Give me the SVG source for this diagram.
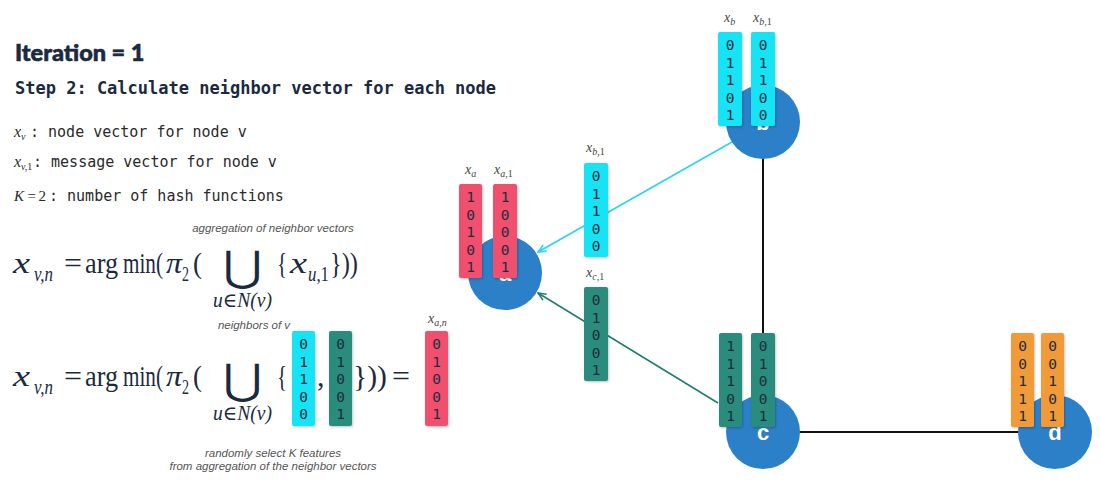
<svg xmlns="http://www.w3.org/2000/svg" width="1100" height="483" viewBox="0 0 1100 483">
<style>
.title{font-family:Lato,"Open Sans",sans-serif;font-weight:900;font-size:23.5px;fill:#1b2a41;stroke:#1b2a41;stroke-width:0.6}
.step{font-family:"DejaVu Sans Mono",monospace;font-weight:bold;font-size:17px;fill:#1b2a41}
.mono{font-family:"DejaVu Sans Mono",monospace;font-size:15px;fill:#2a2a2a}
.mi{font-family:"Liberation Serif","DejaVu Serif",serif;font-style:italic;fill:#2a2a2a}
.mu{font-family:"Liberation Serif","DejaVu Serif",serif;fill:#1b2a41;font-size:30px}
.fi{font-family:"Liberation Serif","DejaVu Serif",serif;font-style:italic;fill:#1b2a41;font-size:30px}
.fs{font-size:20px}
.up{font-style:normal}
.note{font-family:"Liberation Sans",Arial,sans-serif;font-style:italic;font-size:11.5px;fill:#555}
.d{font-family:"DejaVu Sans Mono",monospace;font-size:14.5px;fill:#1e2d40;text-anchor:middle}
.lbl{font-family:"Liberation Serif","DejaVu Serif",serif;font-style:italic;font-size:14px;fill:#444}
.sub{font-size:10px}
.node{fill:#2b80c8}
.nl{font-family:"Liberation Sans",Arial,sans-serif;font-weight:bold;font-size:22px;fill:#fff;text-anchor:middle}
.pink{fill:#f0506e}
.cyan{fill:#16e4f4}
.teal{fill:#2a8c7d}
.orange{fill:#f09a38}
.edge{stroke:#111;stroke-width:2;fill:none}
.cyl{stroke:#26d6ec;stroke-width:1.6;fill:none}
.tel{stroke:#1f7f6e;stroke-width:1.6;fill:none}
.union{font-family:"DejaVu Sans",sans-serif;fill:#1b2a41;font-size:40px;text-anchor:middle}
</style>
<defs>
<filter id="sh" x="-20%" y="-10%" width="150%" height="130%">
<feDropShadow dx="0.8" dy="1" stdDeviation="0.8" flood-color="#000" flood-opacity="0.25"/>
</filter>
<marker id="ac" markerWidth="10" markerHeight="10" refX="9" refY="5" orient="auto" markerUnits="userSpaceOnUse">
<path d="M1,1.5 L9,5 L1,8.5" fill="none" stroke="#26d6ec" stroke-width="1.6"/>
</marker>
<marker id="at" markerWidth="10" markerHeight="10" refX="9" refY="5" orient="auto" markerUnits="userSpaceOnUse">
<path d="M1,1.5 L9,5 L1,8.5" fill="none" stroke="#1f7f6e" stroke-width="1.6"/>
</marker>
</defs>
<rect width="1100" height="483" fill="#fff"/>

<!-- left text -->
<g id="text-left">
<text class="title" x="15" y="61">Iteration = 1</text>
<text class="step" x="15" y="94">Step 2: Calculate neighbor vector for each node</text>
<text class="mi" x="14" y="137" font-size="16">x<tspan class="sub" dy="3">v</tspan></text>
<text class="mono" x="30" y="137">: node vector for node v</text>
<text class="mi" x="14" y="167" font-size="16">x<tspan class="sub" dy="3">v,</tspan><tspan class="sub up">1</tspan></text>
<text class="mono" x="33" y="167">: message vector for node v</text>
<text class="mi" x="14" y="201" font-size="15">K</text>
<text class="mi up" x="27.5" y="201" font-size="15">=</text>
<text class="mi up" x="38.5" y="201" font-size="15">2</text>
<text class="mono" x="49" y="201">: number of hash functions</text>
</g>

<!-- formula 1 -->
<g id="formula-1">
<text class="note" x="273" y="232" text-anchor="middle">aggregation of neighbor vectors</text>
<text class="fi" x="13" y="273" textLength="17" lengthAdjust="spacingAndGlyphs">x</text>
<text class="fi fs" x="34" y="281" textLength="19" lengthAdjust="spacingAndGlyphs">v,n</text>
<text class="mu" x="64" y="273" textLength="18" lengthAdjust="spacingAndGlyphs">=</text>
<text class="mu" x="85" y="273" textLength="33" lengthAdjust="spacingAndGlyphs">arg</text>
<text class="mu" x="123" y="273" textLength="40" lengthAdjust="spacingAndGlyphs">min(</text>
<text class="fi" x="166" y="273" textLength="16" lengthAdjust="spacingAndGlyphs">π</text>
<text class="mu fs" x="182" y="281" textLength="7" lengthAdjust="spacingAndGlyphs">2</text>
<text class="mu" x="193" y="273" textLength="9" lengthAdjust="spacingAndGlyphs">(</text>
<text class="union" transform="translate(242.5,281) scale(1.19,1.05)">⋃</text>
<text class="fi fs" x="213" y="307" textLength="59" lengthAdjust="spacingAndGlyphs">u∈N(v)</text>
<text class="mu" x="277" y="273" textLength="10" lengthAdjust="spacingAndGlyphs">{</text>
<text class="fi" x="290" y="273" textLength="17" lengthAdjust="spacingAndGlyphs">x</text>
<text class="fi fs" x="308" y="281" textLength="21" lengthAdjust="spacingAndGlyphs">u,<tspan class="up">1</tspan></text>
<text class="mu" x="330" y="273" textLength="28" lengthAdjust="spacingAndGlyphs">}))</text>
<text class="note" x="254" y="329" text-anchor="middle">neighbors of v</text>
</g>

<!-- formula 2 -->
<g id="formula-2">
<text class="fi" x="13" y="386" textLength="17" lengthAdjust="spacingAndGlyphs">x</text>
<text class="fi fs" x="34" y="394" textLength="19" lengthAdjust="spacingAndGlyphs">v,n</text>
<text class="mu" x="64" y="386" textLength="18" lengthAdjust="spacingAndGlyphs">=</text>
<text class="mu" x="85" y="386" textLength="33" lengthAdjust="spacingAndGlyphs">arg</text>
<text class="mu" x="123" y="386" textLength="40" lengthAdjust="spacingAndGlyphs">min(</text>
<text class="fi" x="166" y="386" textLength="16" lengthAdjust="spacingAndGlyphs">π</text>
<text class="mu fs" x="182" y="394" textLength="7" lengthAdjust="spacingAndGlyphs">2</text>
<text class="mu" x="193" y="386" textLength="9" lengthAdjust="spacingAndGlyphs">(</text>
<text class="union" transform="translate(242.5,394) scale(1.19,1.05)">⋃</text>
<text class="fi fs" x="213" y="420" textLength="59" lengthAdjust="spacingAndGlyphs">u∈N(v)</text>
<text class="mu" x="277" y="386" textLength="10" lengthAdjust="spacingAndGlyphs">{</text>
<g filter="url(#sh)"><rect class="cyan" x="292" y="331" width="23" height="95" rx="2"/></g>
<text class="d"><tspan x="303.5" y="349">0</tspan><tspan x="303.5" y="366.5">1</tspan><tspan x="303.5" y="384">1</tspan><tspan x="303.5" y="401.5">0</tspan><tspan x="303.5" y="419">0</tspan></text>
<text class="mu" x="317" y="386">,</text>
<g filter="url(#sh)"><rect class="teal" x="329" y="331" width="23" height="95" rx="2"/></g>
<text class="d"><tspan x="340.5" y="349">0</tspan><tspan x="340.5" y="366.5">1</tspan><tspan x="340.5" y="384">0</tspan><tspan x="340.5" y="401.5">0</tspan><tspan x="340.5" y="419">1</tspan></text>
<text class="mu" x="353" y="386" textLength="34" lengthAdjust="spacingAndGlyphs">}))</text>
<text class="mu" x="392" y="386" textLength="18" lengthAdjust="spacingAndGlyphs">=</text>
<text class="lbl" x="428" y="323">x<tspan class="sub" dy="3">a,n</tspan></text>
<g filter="url(#sh)"><rect class="pink" x="425" y="331" width="23" height="95" rx="2"/></g>
<text class="d"><tspan x="436.5" y="349">0</tspan><tspan x="436.5" y="366.5">1</tspan><tspan x="436.5" y="384">0</tspan><tspan x="436.5" y="401.5">0</tspan><tspan x="436.5" y="419">1</tspan></text>
<text class="note" x="273" y="457" text-anchor="middle">randomly select K features</text>
<text class="note" x="273" y="470" text-anchor="middle">from aggregation of the neighbor vectors</text>
</g>

<!-- connectors -->
<g id="connectors">
<line class="edge" x1="763" y1="158" x2="763" y2="396"/>
<line class="edge" x1="799" y1="432" x2="1019" y2="432"/>
<line class="cyl" x1="732" y1="142" x2="538" y2="252" marker-end="url(#ac)"/>
<line class="tel" x1="718" y1="403" x2="538" y2="293" marker-end="url(#at)"/>
</g>

<!-- node a -->
<g id="node-a">
<circle class="node" cx="505" cy="273" r="37"/>
<text class="nl" x="505" y="281">a</text>
<text class="lbl" x="465" y="174">x<tspan class="sub" dy="3">a</tspan></text>
<text class="lbl" x="494" y="174">x<tspan class="sub" dy="3">a,</tspan><tspan class="sub up">1</tspan></text>
<g filter="url(#sh)"><rect class="pink" x="459" y="184" width="23" height="94" rx="2"/><rect class="pink" x="493" y="184" width="24" height="94" rx="2"/></g>
<text class="d"><tspan x="470.5" y="202">1</tspan><tspan x="470.5" y="219.5">0</tspan><tspan x="470.5" y="237">1</tspan><tspan x="470.5" y="254.5">0</tspan><tspan x="470.5" y="272">1</tspan></text>
<text class="d"><tspan x="505" y="202">1</tspan><tspan x="505" y="219.5">0</tspan><tspan x="505" y="237">0</tspan><tspan x="505" y="254.5">0</tspan><tspan x="505" y="272">1</tspan></text>
</g>

<!-- messages -->
<g id="msg-b">
<text class="lbl" x="586" y="152">x<tspan class="sub" dy="3">b,</tspan><tspan class="sub up">1</tspan></text>
<g filter="url(#sh)"><rect class="cyan" x="584" y="163" width="24" height="94" rx="2"/></g>
<text class="d"><tspan x="596" y="181">0</tspan><tspan x="596" y="198.5">1</tspan><tspan x="596" y="216">1</tspan><tspan x="596" y="233.5">0</tspan><tspan x="596" y="251">0</tspan></text>
</g>
<g id="msg-c">
<text class="lbl" x="586" y="277">x<tspan class="sub" dy="3">c,</tspan><tspan class="sub up">1</tspan></text>
<g filter="url(#sh)"><rect class="teal" x="584" y="287" width="24" height="94" rx="2"/></g>
<text class="d"><tspan x="596" y="305">0</tspan><tspan x="596" y="322.5">1</tspan><tspan x="596" y="340">0</tspan><tspan x="596" y="357.5">0</tspan><tspan x="596" y="375">1</tspan></text>
</g>

<!-- node b -->
<g id="node-b">
<circle class="node" cx="763" cy="122" r="37"/>
<text class="nl" x="763" y="130">b</text>
<text class="lbl" x="724" y="22">x<tspan class="sub" dy="3">b</tspan></text>
<text class="lbl" x="753" y="22">x<tspan class="sub" dy="3">b,</tspan><tspan class="sub up">1</tspan></text>
<g filter="url(#sh)"><rect class="cyan" x="718" y="32" width="24" height="94" rx="2"/><rect class="cyan" x="751" y="32" width="24" height="94" rx="2"/></g>
<text class="d"><tspan x="730" y="50">0</tspan><tspan x="730" y="67.5">1</tspan><tspan x="730" y="85">1</tspan><tspan x="730" y="102.5">0</tspan><tspan x="730" y="120">1</tspan></text>
<text class="d"><tspan x="763" y="50">0</tspan><tspan x="763" y="67.5">1</tspan><tspan x="763" y="85">1</tspan><tspan x="763" y="102.5">0</tspan><tspan x="763" y="120">0</tspan></text>
</g>

<!-- node c -->
<g id="node-c">
<circle class="node" cx="763" cy="432" r="37"/>
<text class="nl" x="763" y="440">c</text>
<g filter="url(#sh)"><rect class="teal" x="719" y="333" width="23" height="94" rx="2"/><rect class="teal" x="751" y="333" width="24" height="94" rx="2"/></g>
<text class="d"><tspan x="730.5" y="351">1</tspan><tspan x="730.5" y="368.5">1</tspan><tspan x="730.5" y="386">1</tspan><tspan x="730.5" y="403.5">0</tspan><tspan x="730.5" y="421">1</tspan></text>
<text class="d"><tspan x="763" y="351">0</tspan><tspan x="763" y="368.5">1</tspan><tspan x="763" y="386">0</tspan><tspan x="763" y="403.5">0</tspan><tspan x="763" y="421">1</tspan></text>
</g>

<!-- node d -->
<g id="node-d">
<circle class="node" cx="1055" cy="432" r="37"/>
<text class="nl" x="1055" y="440">d</text>
<g filter="url(#sh)"><rect class="orange" x="1011" y="333" width="23" height="94" rx="2"/><rect class="orange" x="1041" y="333" width="23" height="94" rx="2"/></g>
<text class="d"><tspan x="1022.5" y="351">0</tspan><tspan x="1022.5" y="368.5">0</tspan><tspan x="1022.5" y="386">1</tspan><tspan x="1022.5" y="403.5">1</tspan><tspan x="1022.5" y="421">1</tspan></text>
<text class="d"><tspan x="1052.5" y="351">0</tspan><tspan x="1052.5" y="368.5">0</tspan><tspan x="1052.5" y="386">1</tspan><tspan x="1052.5" y="403.5">0</tspan><tspan x="1052.5" y="421">1</tspan></text>
</g>
</svg>
